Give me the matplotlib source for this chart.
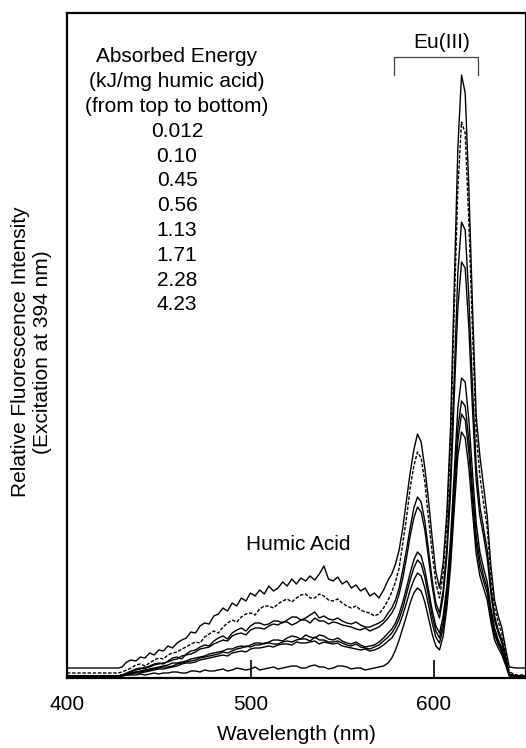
"""
Eu(III) / humic acid fluorescence spectra after irradiation.

Eight emission spectra (excitation 394 nm), one per absorbed energy dose.
Intensities are relative (read off the figure), no y scale is shown.

  python plot.py
"""

import numpy as np
import matplotlib

matplotlib.use("Agg")
import matplotlib.pyplot as plt

plt.rcParams["font.family"] = ["Liberation Sans", "DejaVu Sans"]

# shared wavelength grid (nm): flat start, humic band, Eu(III) lines, flat end
WAVELENGTH = np.concatenate([
    [400, 428],
    np.arange(430, 575.1, 2.5),
    np.arange(577, 641.1, 2),
    [645, 650],
])

DOSES = ["0.012", "0.10", "0.45", "0.56", "1.13", "1.71", "2.28", "4.23"]

# relative intensity, one list per dose (top to bottom)
I_0012 = [10, 10,
          11, 16, 18, 17, 21, 20, 25, 23, 28, 27,
          32, 30, 35, 38, 40, 46, 45, 52, 55, 54,
          62, 64, 70, 67, 75, 72, 80, 77, 85, 82,
          88, 84, 92, 87, 90, 96, 92, 99, 94, 100,
          97, 102, 98, 104, 112, 99, 97, 101, 94, 97,
          90, 93, 87, 90, 82, 85, 80, 88, 98,
          104, 114, 128, 150, 178, 205, 228, 244, 236, 210,
          178, 140, 106, 90, 115, 165, 250, 390, 530, 603,
          585, 490, 370, 262, 222, 192, 162, 112, 78, 62,
          50, 30, 11,
          10, 10]
I_010 = [5, 5,
         6, 8, 10, 13, 14, 12, 15, 18, 20, 19,
         23, 25, 26, 29, 31, 34, 36, 35, 41, 44,
         47, 45, 51, 55, 58, 56, 61, 64, 65, 63,
         69, 72, 72, 70, 74, 77, 79, 76, 80, 83,
         84, 80, 80, 84, 82, 78, 77, 79, 75, 72,
         70, 72, 68, 66, 65, 62, 64, 70, 78,
         86, 96, 110, 135, 160, 190, 212, 226, 220, 196,
         160, 125, 95, 80, 105, 155, 235, 365, 490, 556,
         545, 455, 345, 245, 202, 175, 150, 102, 70, 56,
         44, 26, 6,
         3, 3]
I_045 = [2, 2,
         3, 5, 7, 9, 10, 9, 12, 14, 15, 14,
         17, 20, 21, 19, 24, 27, 28, 31, 33, 32,
         37, 40, 42, 39, 45, 48, 50, 47, 52, 55,
         55, 53, 54, 57, 57, 55, 58, 61, 61, 58,
         60, 63, 66, 60, 62, 59, 58, 60, 57, 55,
         54, 56, 53, 51, 51, 53, 55, 58, 65,
         70, 78, 90, 108, 128, 150, 170, 181, 176, 157,
         128, 98, 75, 65, 88, 130, 200, 300, 405, 456,
         448, 380, 290, 212, 172, 150, 128, 90, 62, 48,
         38, 22, 4,
         2, 2]
I_056 = [2, 2,
         3, 4, 6, 8, 9, 11, 11, 13, 14, 15,
         16, 18, 19, 22, 23, 24, 26, 29, 30, 31,
         34, 36, 38, 37, 42, 44, 45, 43, 48, 50,
         50, 49, 52, 54, 53, 56, 56, 53, 55, 58,
         58, 55, 60, 57, 57, 54, 56, 55, 53, 52,
         51, 49, 48, 50, 47, 49, 51, 55, 60,
         65, 72, 84, 100, 120, 142, 160, 171, 166, 148,
         120, 92, 70, 60, 82, 122, 185, 280, 370, 416,
         410, 350, 268, 197, 162, 142, 120, 85, 58, 45,
         35, 20, 3,
         2, 2]
I_113 = [2, 2,
         3, 4, 5, 6, 7, 8, 9, 10, 11, 12,
         13, 15, 15, 16, 17, 19, 20, 21, 22, 24,
         25, 26, 27, 29, 29, 31, 32, 31, 33, 35,
         35, 34, 36, 38, 38, 37, 40, 42, 41, 39,
         43, 41, 40, 43, 42, 39, 38, 40, 37, 35,
         34, 36, 33, 31, 32, 33, 36, 40, 45,
         49, 55, 64, 76, 90, 105, 118, 126, 122, 108,
         88, 68, 52, 45, 62, 92, 138, 205, 270, 300,
         296, 258, 205, 155, 126, 110, 96, 70, 50, 38,
         30, 17, 3,
         2, 2]
I_171 = [2, 2,
         3, 3, 4, 6, 6, 7, 8, 9, 10, 11,
         11, 12, 14, 15, 16, 17, 18, 20, 21, 22,
         23, 24, 26, 25, 27, 29, 30, 32, 31, 33,
         33, 35, 35, 34, 34, 36, 37, 36, 38, 39,
         39, 37, 41, 38, 38, 36, 36, 37, 35, 33,
         32, 34, 31, 30, 29, 31, 33, 37, 41,
         45, 51, 59, 70, 84, 98, 110, 118, 114, 101,
         82, 62, 47, 40, 56, 85, 128, 190, 250, 277,
         272, 238, 188, 142, 118, 102, 90, 66, 46, 36,
         28, 16, 3,
         2, 2]
I_228 = [2, 2,
         2, 3, 4, 5, 5, 6, 7, 8, 9, 9,
         10, 11, 12, 14, 15, 15, 16, 18, 19, 20,
         21, 22, 23, 22, 25, 26, 27, 26, 29, 30,
         30, 31, 32, 31, 33, 34, 34, 33, 36, 35,
         35, 36, 37, 34, 36, 35, 34, 35, 32, 31,
         30, 29, 28, 29, 27, 28, 30, 33, 37,
         40, 46, 53, 63, 75, 88, 98, 105, 102, 90,
         73, 55, 41, 35, 50, 78, 120, 180, 237, 264,
         258, 226, 178, 134, 110, 97, 85, 62, 43, 34,
         26, 15, 3,
         2, 2]
I_423 = [1, 1,
         2, 3, 3, 3, 4, 3, 4, 5, 4, 5,
         5, 6, 6, 5, 5, 7, 7, 6, 8, 7,
         7, 8, 9, 7, 8, 10, 9, 8, 9, 11,
         8, 9, 10, 11, 9, 10, 11, 12, 12, 10,
         10, 12, 13, 11, 11, 9, 10, 12, 12, 11,
         9, 10, 10, 8, 9, 10, 11, 12, 15,
         20, 28, 38, 50, 62, 75, 85, 90, 87, 76,
         60, 44, 32, 28, 42, 70, 110, 168, 222, 246,
         240, 210, 166, 124, 102, 90, 78, 56, 38, 30,
         23, 13, 2,
         1, 1]

SPECTRA = [I_0012, I_010, I_045, I_056, I_113, I_171, I_228, I_423]
DASHED = {1}

W, H = 526, 748


def main():
    fig = plt.figure(figsize=(W / 100, H / 100), dpi=100)
    ax = fig.add_axes([67 / W, 70 / H, (250 * 1.835) / W, 665 / H])

    for i, ys in enumerate(SPECTRA):
        ls = (0, (2.5, 1.2)) if i in DASHED else "-"
        ax.plot(WAVELENGTH, ys, color="black", lw=1.0, ls=ls)

    ax.set_xlim(400, 650)
    ax.set_ylim(0, 665)
    ax.set_yticks([])
    ax.set_xticks([400, 500, 600])
    ax.set_xticklabels(["400", "500", "600"])
    ax.tick_params(axis="x", direction="in", length=13, width=1.2,
                   pad=12, labelsize=15)
    for s in ax.spines.values():
        s.set_linewidth(1.6)

    # Eu(III) bracket
    ax.plot([578.2, 578.2, 624, 624], [603, 621, 621, 603],
            color="#444444", lw=0.9)
    ax.text(604.4, 635, "Eu(III)", ha="center", va="center", fontsize=15)
    ax.text(525.9, 134, "Humic Acid", ha="center", va="center", fontsize=15)

    legend_lines = ["Absorbed Energy", "(kJ/mg humic acid)",
                    "(from top to bottom)"] + DOSES
    for k, line in enumerate(legend_lines):
        fig.text(177 / W, 1 - (57 + 24.8 * k) / H, line,
                 ha="center", va="center", fontsize=15)

    fig.text(296 / W, 1 - 735 / H, "Wavelength (nm)",
             ha="center", va="center", fontsize=15)
    fig.text(32 / W, 1 - 352 / H,
             "Relative Fluorescence Intensity\n(Excitation at 394 nm)",
             ha="center", va="center", rotation=90, fontsize=15,
             linespacing=1.2)

    fig.savefig("out.png", dpi=100)
    plt.close(fig)


if __name__ == "__main__":
    main()
